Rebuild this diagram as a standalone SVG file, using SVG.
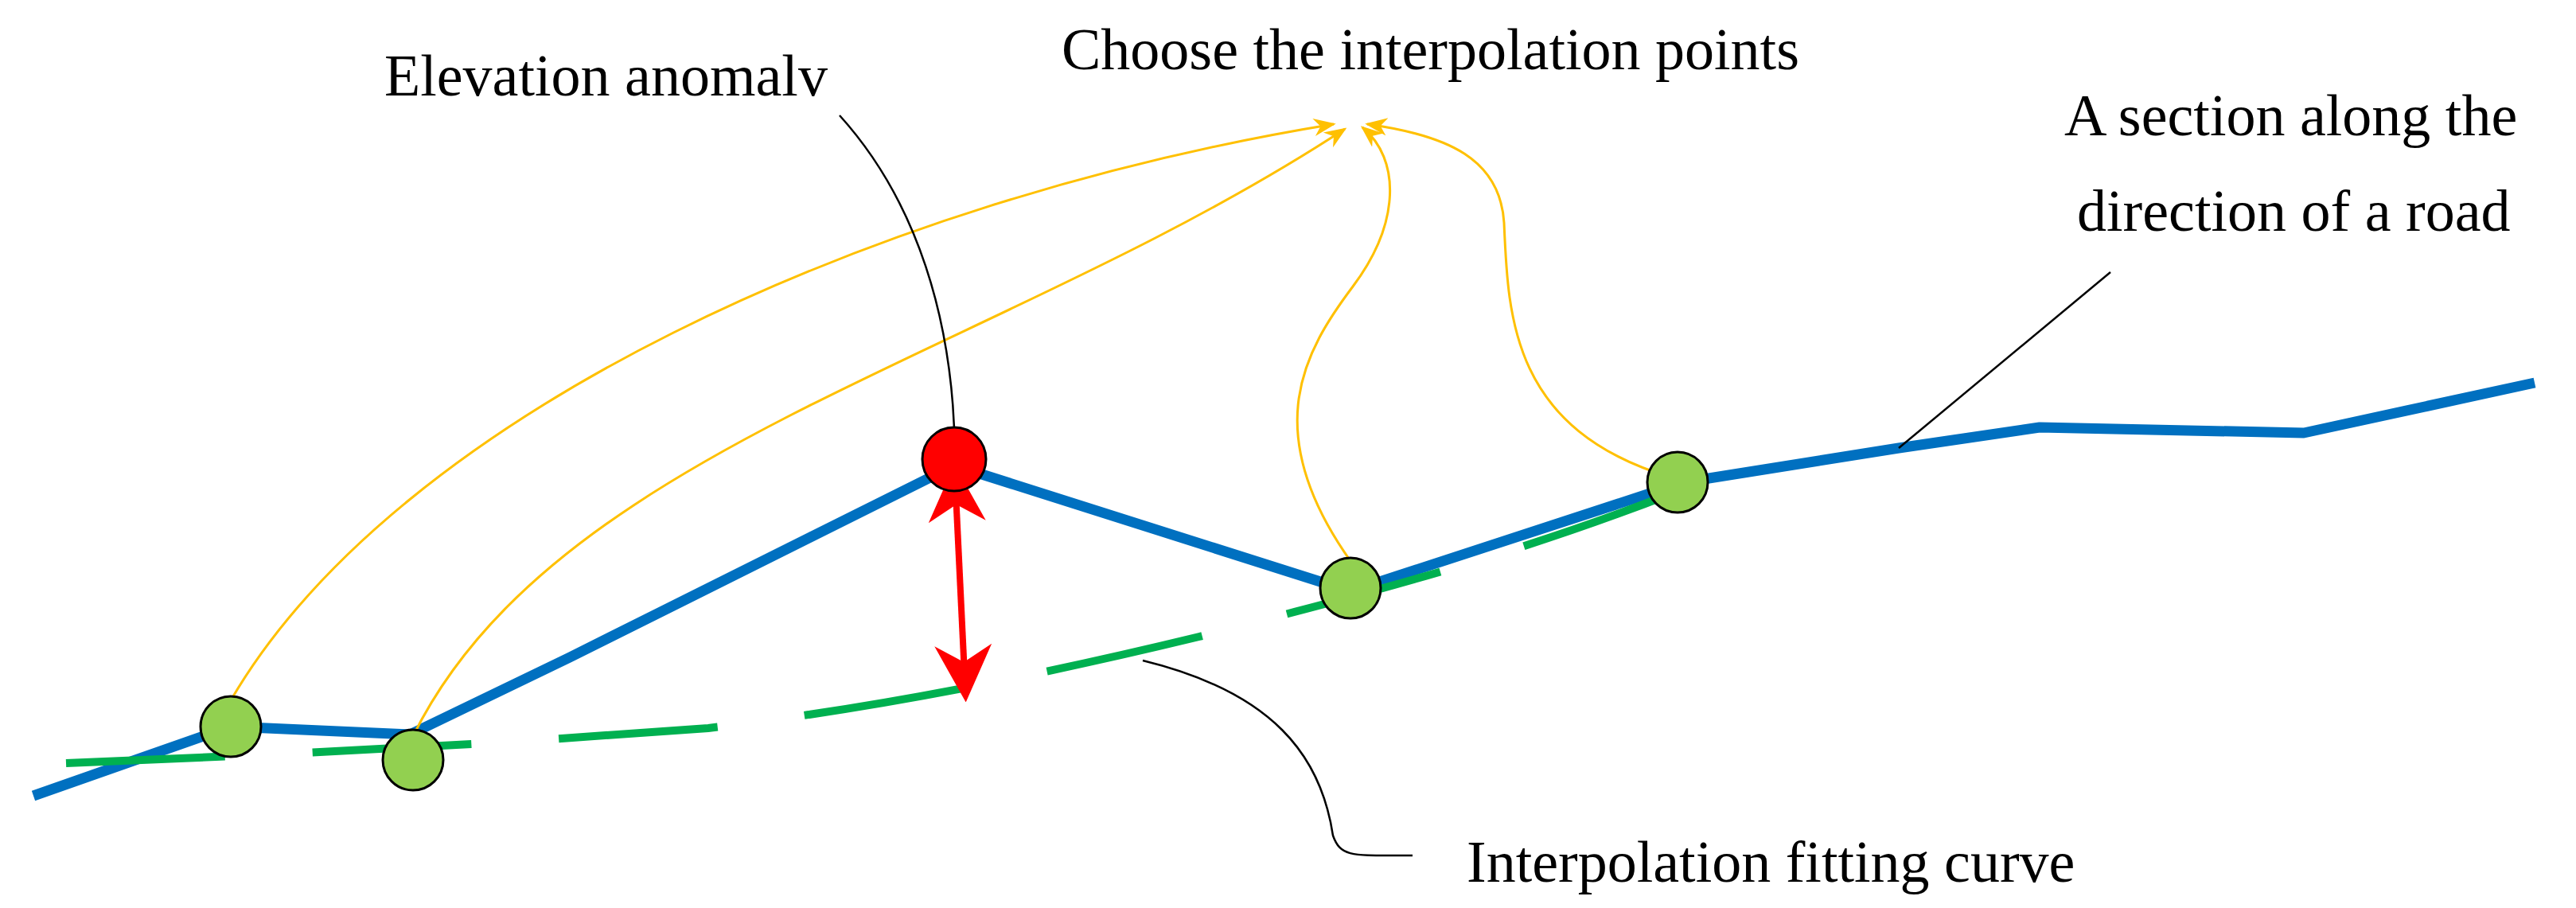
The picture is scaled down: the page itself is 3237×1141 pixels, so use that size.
<svg xmlns="http://www.w3.org/2000/svg" width="3237" height="1141" viewBox="0 0 3237 1141">
<style>
.t{font-family:"Liberation Serif","Times New Roman",serif;font-size:74px;fill:#000}
.y{fill:none;stroke:#FFC000;stroke-width:3;marker-end:url(#ya)}
.k{fill:none;stroke:#000;stroke-width:2.5}
.g{fill:#92D050;stroke:#000;stroke-width:3}
</style>
<defs>
<marker id="ya" viewBox="0 0 10 10" refX="9" refY="5" markerWidth="28" markerHeight="28" orient="auto" markerUnits="userSpaceOnUse"><path d="M0,1 L10,5 L0,9 L3,5 z" fill="#FFC000"/></marker>
<marker id="ra" viewBox="0 0 10 10" refX="8" refY="5" markerWidth="9" markerHeight="9" orient="auto-start-reverse"><path d="M0,0 L10,5 L0,10 L3,5 z" fill="#FF0000"/></marker>
</defs>
<rect width="3237" height="1141" fill="#fff"/>
<g id="connectors">
<path d="M42,1000 L290,913 L515,923 L716,826 L1199,585 L1697,743 L2116,606 L2386,563 L2563,537 L2895,544 L3185,481" fill="none" stroke="#0070C0" stroke-width="13" stroke-linejoin="round"/>
<path d="M83,959 C300,950 560,940 890,915 C1100,890 1300,850 1507,800 C1700,750 1900,700 2116,614" fill="none" stroke="#00B050" stroke-width="10" stroke-dasharray="200,110"/>
<path d="M1200,598 L1213,868" stroke="#FF0000" stroke-width="8" marker-start="url(#ra)" marker-end="url(#ra)"/>
<path class="y" d="M290,880 C500,520 1100,250 1676,156"/>
<path class="y" d="M519,925 C700,560 1250,450 1690,162"/>
<path class="y" d="M1697,705 C1580,540 1640,440 1700,360 C1760,280 1760,200 1712,160"/>
<path class="y" d="M2100,600 C1900,540 1895,400 1890,280 C1885,200 1820,170 1718,156"/>
<path class="k" d="M1055,145 C1150,250 1200,400 1200,580"/>
<path class="k" d="M2652,342 L2386,563"/>
<path class="k" d="M1436,830 C1600,870 1660,950 1675,1050 C1685,1078 1700,1075 1775,1075"/>
</g>
<g id="p1"><circle class="g" cx="290" cy="913" r="38"/></g>
<g id="p2"><circle class="g" cx="519" cy="955" r="38"/></g>
<g id="p3"><circle class="g" cx="1697" cy="739" r="38"/></g>
<g id="p4"><circle class="g" cx="2108" cy="606" r="38"/></g>
<g id="anomaly"><circle cx="1199" cy="577" r="40" fill="#FF0000" stroke="#000" stroke-width="3"/></g>
<g id="labels">
<text class="t" x="483" y="120">Elevation anomalv</text>
<text class="t" x="1334" y="87">Choose the interpolation points</text>
<text class="t" x="2594" y="170">A section along the</text>
<text class="t" x="2610" y="290">direction of a road</text>
<text class="t" x="1843" y="1108">Interpolation fitting curve</text>
</g>
</svg>
